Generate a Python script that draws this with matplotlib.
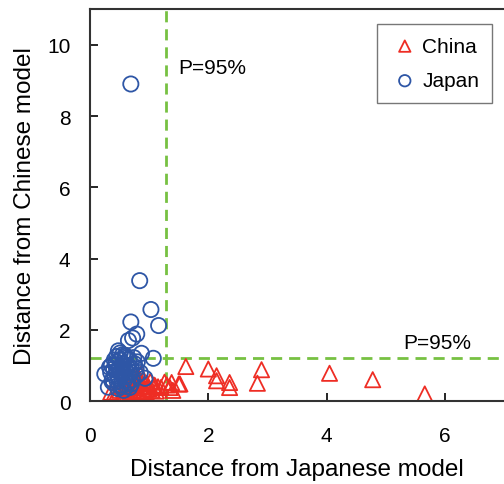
import matplotlib
matplotlib.use("Agg")
from matplotlib import pyplot as plt

plt.rcParams['font.family'] = ['Liberation Sans', 'DejaVu Sans']

# China samples (triangles)
china_x = [1.62, 2.00, 2.14, 2.14, 2.36, 2.36, 2.90, 2.83, 4.05, 4.78, 5.66,
           1.52, 1.38, 1.35, 1.26, 1.50, 1.10, 1.20, 1.40, 1.30,
           0.55, 0.60, 0.65, 0.70, 0.75, 0.80, 0.85, 0.90, 0.95, 1.00, 1.05,
           0.58, 0.63, 0.68, 0.72, 0.78, 0.82, 0.88, 0.92, 0.98, 1.02, 1.08, 1.15,
           0.62, 0.70, 0.76, 0.84, 0.90, 0.96, 0.74, 0.80, 0.86, 0.45, 0.50, 0.40,
           0.66, 0.94, 1.12, 0.35]
china_y = [0.97, 0.90, 0.71, 0.57, 0.52, 0.38, 0.88, 0.50, 0.78, 0.60, 0.20,
           0.48, 0.52, 0.38, 0.53, 0.48, 0.43, 0.38, 0.30, 0.45,
           0.20, 0.22, 0.18, 0.25, 0.20, 0.28, 0.22, 0.30, 0.25, 0.35, 0.30,
           0.35, 0.40, 0.30, 0.45, 0.38, 0.50, 0.42, 0.48, 0.40, 0.55, 0.45, 0.40,
           0.55, 0.60, 0.52, 0.62, 0.58, 0.50, 0.70, 0.65, 0.75, 0.22, 0.30, 0.20,
           0.15, 0.18, 0.28, 0.25]

# Japan samples (circles)
japan_x = [0.69, 0.84, 1.03, 0.69, 1.16, 0.79, 0.65, 0.72, 1.07, 0.87, 0.48,
           0.93, 0.31, 0.25, 0.60, 0.55,
           0.35, 0.40, 0.45, 0.50, 0.55, 0.60, 0.65, 0.70, 0.75, 0.80,
           0.38, 0.42, 0.48, 0.52, 0.58, 0.62, 0.68, 0.72, 0.78,
           0.36, 0.44, 0.50, 0.56, 0.60, 0.66, 0.74,
           0.40, 0.46, 0.52, 0.58, 0.64, 0.70, 0.33, 0.43, 0.49, 0.54,
           0.47, 0.53, 0.57, 0.62, 0.45, 0.51, 0.59, 0.41, 0.37, 0.67,
           0.85, 0.79, 0.56, 0.63]
japan_y = [8.90, 3.38, 2.57, 2.22, 2.12, 1.88, 1.70, 1.77, 1.20, 1.34, 1.41,
           0.64, 0.39, 0.76, 1.25, 1.30,
           0.80, 0.90, 0.85, 0.95, 0.75, 0.88, 1.00, 0.92, 1.05, 1.10,
           0.60, 0.70, 0.65, 0.78, 0.68, 0.72, 0.82, 0.60, 0.90,
           1.00, 1.10, 1.15, 1.05, 1.20, 1.18, 1.22,
           0.50, 0.55, 0.45, 0.58, 0.52, 0.48, 0.95, 1.02, 0.62, 0.98,
           0.35, 0.40, 0.30, 0.42, 1.25, 1.35, 1.28, 1.15, 0.55, 0.38,
           0.80, 0.72, 0.85, 0.95]

# 95% thresholds
thr_japan = 1.28
thr_china = 1.2

red = '#ee2d24'
blue = '#2e56a6'
green = '#77c142'

fig = plt.figure(figsize=(5.04, 4.85), dpi=100)
ax = fig.add_axes([0.1786, 0.171, 0.8214, 0.808])

ax.axvline(thr_japan, color=green, linestyle=(0, (4, 2.5)), linewidth=2, zorder=1)
ax.axhline(thr_china, color=green, linestyle=(0, (4, 2.5)), linewidth=2, zorder=1)

ax.scatter(china_x, china_y, marker='^', s=120, facecolors='none',
           edgecolors=red, linewidths=1.3, label='China', zorder=2)
ax.scatter(japan_x, japan_y, marker='o', s=120, facecolors='none',
           edgecolors=blue, linewidths=1.3, label='Japan', zorder=3)

ax.text(1.5, 9.36, "P=95%", fontsize=15, va='center', ha='left')
ax.text(5.3, 1.65, "P=95%", fontsize=15, va='center', ha='left')

ax.set_xlim(0, 7)
ax.set_ylim(0, 11)
ax.set_xticks([0, 2, 4, 6])
ax.set_yticks([0, 2, 4, 6, 8, 10])
ax.tick_params(direction='in', length=6, width=1.2, labelsize=15)
ax.tick_params(axis='x', pad=18)
ax.tick_params(axis='y', pad=14)

ax.set_xlabel("Distance from Japanese model", fontsize=17.5, labelpad=9)
ax.set_ylabel("Distance from Chinese model", fontsize=17.5, labelpad=8)

for side in ['left', 'bottom', 'top']:
    ax.spines[side].set_linewidth(1.5)
    ax.spines[side].set_color('#333333')
ax.spines['right'].set_visible(False)

leg = ax.legend(loc='upper right', bbox_to_anchor=(0.971, 0.962), fontsize=15,
                frameon=True, fancybox=False, edgecolor='#555555',
                handletextpad=0.1, handlelength=1.5, borderpad=0.6,
                labelspacing=0.75, borderaxespad=0.0, scatterpoints=1,
                markerscale=0.75)
leg.get_frame().set_linewidth(1.0)

plt.savefig("out.png", dpi=100)
